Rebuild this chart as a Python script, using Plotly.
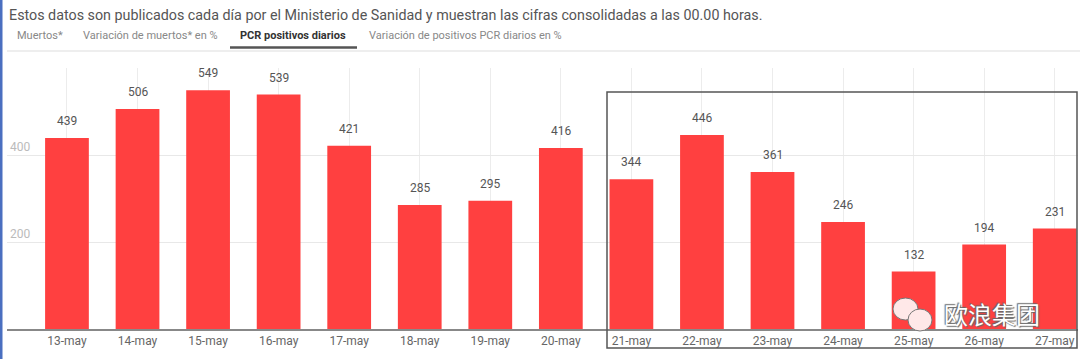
import plotly.graph_objects as go

categories = ["13-may", "14-may", "15-may", "16-may", "17-may", "18-may", "19-may",
              "20-may", "21-may", "22-may", "23-may", "24-may", "25-may", "26-may", "27-may"]
pcr_positivos = [439, 506, 549, 539, 421, 285, 295, 416, 344, 446, 361, 246, 132, 194, 231]
y_ticks = [200, 400]
tabs = ["Muertos*", "Variación de muertos* en %", "PCR positivos diarios",
        "Variación de positivos PCR diarios en %"]
tab_x = [15, 81, 238, 367]
active_tab = 2
title_text = "Estos datos son publicados cada día por el Ministerio de Sanidad y muestran las cifras consolidadas a las 00.00 horas."

W, H = 1080, 359
L, R, T, B = 7, 2, 68, 30
PW, PH = W - L - R, H - T - B

def px(x):
    return (x - L) / PW

def py(y):
    return (H - B - y) / PH

FONT = "Roboto"

fig = go.Figure()
fig.add_trace(go.Bar(
    x=categories, y=pcr_positivos,
    marker=dict(color="#ff4040", line=dict(width=0)),
    width=0.62, hoverinfo="x+y",
))

annotations = []
for c, v in zip(categories, pcr_positivos):
    annotations.append(dict(x=c, y=v, text=str(v), showarrow=False, yanchor="bottom",
                            yshift=8, font=dict(family=FONT, size=12, color="#555")))

annotations.append(dict(x=px(7), y=py(15), xref="paper", yref="paper", text=title_text,
                        showarrow=False, xanchor="left", yanchor="middle",
                        font=dict(family=FONT, size=14.3, color="#555")))
for i, (t, x) in enumerate(zip(tabs, tab_x)):
    if i == active_tab:
        txt = "<b>" + t + "</b>"
        col = "#333"
    else:
        txt = t
        col = "#888"
    annotations.append(dict(x=px(x), y=py(35), xref="paper", yref="paper", text=txt,
                            showarrow=False, xanchor="left", yanchor="middle",
                            font=dict(family=FONT, size=11, color=col)))

annotations.append(dict(x=px(942), y=py(313), xref="paper", yref="paper", text="欧浪集团",
                        showarrow=False, xanchor="left", yanchor="middle",
                        font=dict(family="Noto Sans CJK SC", size=24, color="#ffffff",
                                  shadow="1px 1px 1px #666, -1px -1px 1px #666")))

shapes = [
    # left blue border
    dict(type="rect", xref="paper", yref="paper", x0=px(0), x1=px(2.5), y0=py(H), y1=py(0),
         fillcolor="#4a6fc0", line=dict(width=0), layer="above"),
    # top separator
    dict(type="line", xref="paper", yref="paper", x0=px(7), x1=px(1080), y0=py(51), y1=py(51),
         line=dict(color="#dddddd", width=1)),
    # tab underline
    dict(type="line", xref="paper", yref="paper", x0=px(230), x1=px(357), y0=py(47.5), y1=py(47.5),
         line=dict(color="#555555", width=2.5)),
    # highlight box
    dict(type="rect", xref="paper", yref="paper", x0=px(607), x1=px(1077), y0=py(348), y1=py(92),
         line=dict(color="#555555", width=1.5), layer="above"),
    # watermark logo bubbles
    dict(type="circle", xref="paper", yref="paper", x0=px(893), x1=px(918), y0=py(320), y1=py(298),
         fillcolor="#ffe8e8", line=dict(color="#777", width=1), layer="above"),
    dict(type="circle", xref="paper", yref="paper", x0=px(908), x1=px(932), y0=py(331), y1=py(309),
         fillcolor="#ffe8e8", line=dict(color="#777", width=1), layer="above"),
]

fig.update_layout(
    width=W, height=H,
    margin=dict(l=L, r=R, t=T, b=B),
    paper_bgcolor="white", plot_bgcolor="white",
    showlegend=False,
    bargap=0.38,
    annotations=annotations,
    shapes=shapes,
    xaxis=dict(
        type="category", range=[-0.85, 14.33],
        showgrid=True, gridcolor="#ececec", gridwidth=1,
        showline=True, linecolor="#888888", linewidth=1.5,
        ticks="", tickfont=dict(family=FONT, size=12, color="#666"),
        fixedrange=True,
    ),
    yaxis=dict(
        range=[0, 600], tickvals=y_ticks, ticktext=[str(v) for v in y_ticks],
        showgrid=True, gridcolor="#e8e8e8", gridwidth=1,
        zeroline=False, showline=False,
        ticklabelposition="inside top",
        tickfont=dict(family=FONT, size=12, color="#bbbbbb"),
        fixedrange=True,
    ),
)

fig.write_html(
    "out.html",
    config={"displayModeBar": False},
    post_script="document.body.style.margin='0';document.body.style.padding='0';document.body.style.overflow='hidden';document.documentElement.style.overflow='hidden';",
)
